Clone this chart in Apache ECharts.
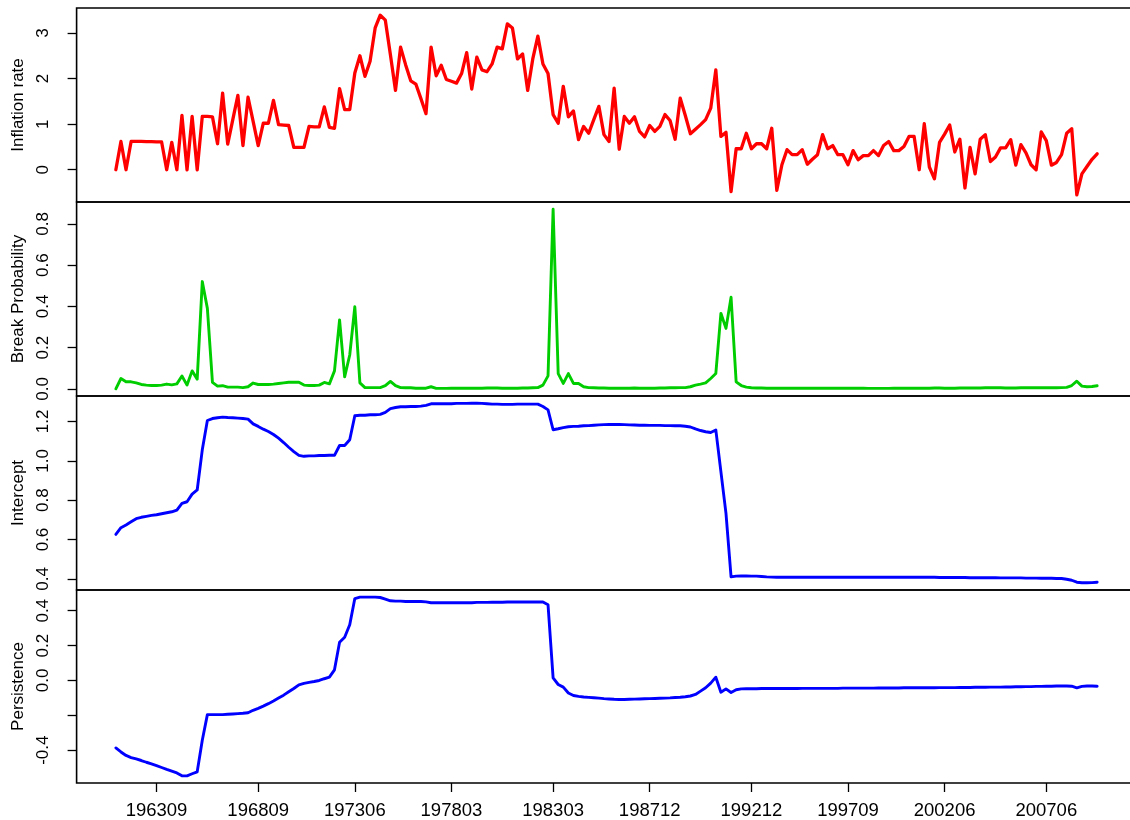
<!DOCTYPE html>
<html>
<head>
<meta charset="utf-8">
<script src="https://cdn.jsdelivr.net/npm/echarts@6/dist/echarts.min.js"></script>
<style>
  html, body { margin: 0; padding: 0; background: #ffffff; overflow: hidden; }
  /* the plot region runs a few pixels past the right edge of the window */
  #chart { width: 1142px; height: 820px; }
</style>
</head>
<body>
<div id="chart"></div>
<script>
// Quarterly observations, 1961Q3 - 2009Q4 (yyyymm of quarter end)
const quarters = [
  '196109','196112',
  '196203','196206','196209','196212', '196303','196306','196309','196312',
  '196403','196406','196409','196412', '196503','196506','196509','196512',
  '196603','196606','196609','196612', '196703','196706','196709','196712',
  '196803','196806','196809','196812', '196903','196906','196909','196912',
  '197003','197006','197009','197012', '197103','197106','197109','197112',
  '197203','197206','197209','197212', '197303','197306','197309','197312',
  '197403','197406','197409','197412', '197503','197506','197509','197512',
  '197603','197606','197609','197612', '197703','197706','197709','197712',
  '197803','197806','197809','197812', '197903','197906','197909','197912',
  '198003','198006','198009','198012', '198103','198106','198109','198112',
  '198203','198206','198209','198212', '198303','198306','198309','198312',
  '198403','198406','198409','198412', '198503','198506','198509','198512',
  '198603','198606','198609','198612', '198703','198706','198709','198712',
  '198803','198806','198809','198812', '198903','198906','198909','198912',
  '199003','199006','199009','199012', '199103','199106','199109','199112',
  '199203','199206','199209','199212', '199303','199306','199309','199312',
  '199403','199406','199409','199412', '199503','199506','199509','199512',
  '199603','199606','199609','199612', '199703','199706','199709','199712',
  '199803','199806','199809','199812', '199903','199906','199909','199912',
  '200003','200006','200009','200012', '200103','200106','200109','200112',
  '200203','200206','200209','200212', '200303','200306','200309','200312',
  '200403','200406','200409','200412', '200503','200506','200509','200512',
  '200603','200606','200609','200612', '200703','200706','200709','200712',
  '200803','200806','200809','200812', '200903','200906','200909','200912'
];

// Dates shown on the time axis
const tickDates = ['196309','196809','197306','197803','198303','198712','199212','199709','200206','200706'];

// Quarterly inflation rate (%)
const inflation = [
  0.00, 0.62, 0.00, 0.62, 0.62, 0.62, 0.615, 0.615, 0.61, 0.61,
  0.00, 0.60, 0.00, 1.19, 0.00, 1.17, 0.00, 1.17, 1.17, 1.16,
  0.57, 1.68, 0.56, 1.10, 1.63, 0.53, 1.59, 1.06, 0.53, 1.02,
  1.02, 1.52, 0.99, 0.98, 0.97, 0.49, 0.49, 0.49, 0.95, 0.94,
  0.94, 1.38, 0.93, 0.91, 1.78, 1.32, 1.32, 2.12, 2.50, 2.05,
  2.38, 3.11, 3.39, 3.28, 2.52, 1.74, 2.69, 2.30, 1.95, 1.88,
  1.56, 1.23, 2.69, 2.06, 2.29, 1.98, 1.94, 1.90, 2.11, 2.57,
  1.77, 2.47, 2.19, 2.15, 2.32, 2.69, 2.65, 3.20, 3.11, 2.43,
  2.54, 1.74, 2.43, 2.93, 2.32, 2.11, 1.21, 1.02, 1.83, 1.16,
  1.29, 0.66, 0.95, 0.80, 1.10, 1.39, 0.77, 0.62, 1.79, 0.45,
  1.17, 1.02, 1.16, 0.84, 0.72, 0.97, 0.84, 0.95, 1.21, 1.08,
  0.67, 1.57, 1.19, 0.79, 0.89, 0.99, 1.10, 1.35, 2.19, 0.73,
  0.82, -0.48, 0.46, 0.46, 0.80, 0.46, 0.57, 0.57, 0.46, 0.91,
  -0.45, 0.11, 0.44, 0.33, 0.33, 0.44, 0.12, 0.23, 0.33, 0.77,
  0.46, 0.53, 0.33, 0.33, 0.11, 0.42, 0.22, 0.31, 0.31, 0.42,
  0.31, 0.53, 0.62, 0.42, 0.42, 0.51, 0.73, 0.73, 0.00, 1.01,
  0.06, -0.20, 0.60, 0.78, 0.98, 0.39, 0.67, -0.40, 0.49, -0.09,
  0.67, 0.77, 0.18, 0.28, 0.48, 0.48, 0.66, 0.10, 0.55, 0.37,
  0.11, 0.00, 0.83, 0.64, 0.10, 0.16, 0.33, 0.80, 0.90, -0.55,
  -0.09, 0.07, 0.23, 0.35
];

// Posterior probability of a structural break
const breakProb = [
  0.000, 0.050, 0.034, 0.034, 0.029, 0.021, 0.018, 0.016, 0.016, 0.018,
  0.023, 0.019, 0.024, 0.062, 0.018, 0.087, 0.047, 0.520, 0.390, 0.031,
  0.013, 0.015, 0.008, 0.008, 0.008, 0.006, 0.010, 0.028, 0.021, 0.021,
  0.021, 0.023, 0.026, 0.029, 0.032, 0.032, 0.032, 0.018, 0.016, 0.016,
  0.018, 0.031, 0.024, 0.087, 0.334, 0.058, 0.164, 0.398, 0.029, 0.006,
  0.006, 0.006, 0.006, 0.015, 0.036, 0.015, 0.006, 0.005, 0.005, 0.003,
  0.003, 0.003, 0.010, 0.002, 0.002, 0.002, 0.003, 0.003, 0.003, 0.003,
  0.003, 0.003, 0.003, 0.004, 0.004, 0.004, 0.003, 0.003, 0.003, 0.003,
  0.004, 0.004, 0.005, 0.006, 0.018, 0.063, 0.871, 0.074, 0.026, 0.074,
  0.026, 0.026, 0.010, 0.006, 0.005, 0.004, 0.004, 0.003, 0.003, 0.003,
  0.003, 0.003, 0.004, 0.003, 0.003, 0.003, 0.003, 0.004, 0.004, 0.005,
  0.005, 0.006, 0.006, 0.010, 0.018, 0.023, 0.029, 0.050, 0.074, 0.366,
  0.293, 0.444, 0.034, 0.016, 0.008, 0.005, 0.004, 0.004, 0.003, 0.003,
  0.003, 0.003, 0.003, 0.003, 0.003, 0.003, 0.003, 0.003, 0.003, 0.003,
  0.003, 0.003, 0.003, 0.003, 0.003, 0.003, 0.003, 0.003, 0.002, 0.002,
  0.002, 0.002, 0.002, 0.003, 0.003, 0.003, 0.003, 0.003, 0.003, 0.003,
  0.003, 0.004, 0.004, 0.003, 0.003, 0.003, 0.004, 0.004, 0.004, 0.004,
  0.004, 0.005, 0.005, 0.005, 0.005, 0.004, 0.004, 0.004, 0.005, 0.005,
  0.005, 0.005, 0.005, 0.005, 0.005, 0.005, 0.006, 0.007, 0.016, 0.037,
  0.013, 0.010, 0.011, 0.015
];

// Regime intercept
const intercept = [
  0.626, 0.660, 0.674, 0.690, 0.706, 0.713, 0.718, 0.723, 0.726, 0.731,
  0.736, 0.741, 0.750, 0.784, 0.792, 0.831, 0.852, 1.056, 1.205, 1.215,
  1.219, 1.222, 1.220, 1.219, 1.217, 1.215, 1.212, 1.188, 1.175, 1.161,
  1.149, 1.134, 1.115, 1.093, 1.069, 1.047, 1.028, 1.023, 1.025, 1.025,
  1.027, 1.027, 1.028, 1.028, 1.078, 1.078, 1.107, 1.229, 1.232, 1.232,
  1.234, 1.234, 1.236, 1.246, 1.265, 1.271, 1.275, 1.275, 1.276, 1.276,
  1.278, 1.282, 1.290, 1.290, 1.290, 1.290, 1.290, 1.292, 1.292, 1.292,
  1.293, 1.293, 1.292, 1.290, 1.288, 1.288, 1.287, 1.287, 1.287, 1.288,
  1.288, 1.288, 1.288, 1.288, 1.276, 1.259, 1.158, 1.163, 1.169, 1.173,
  1.175, 1.176, 1.178, 1.179, 1.181, 1.183, 1.184, 1.185, 1.185, 1.185,
  1.184, 1.183, 1.182, 1.181, 1.181, 1.180, 1.180, 1.180, 1.179, 1.179,
  1.178, 1.178, 1.176, 1.172, 1.162, 1.154, 1.148, 1.144, 1.157, 0.945,
  0.733, 0.410, 0.414, 0.415, 0.415, 0.414, 0.414, 0.412, 0.410, 0.409,
  0.408, 0.408, 0.408, 0.408, 0.408, 0.408, 0.408, 0.408, 0.408, 0.408,
  0.408, 0.408, 0.408, 0.408, 0.408, 0.408, 0.408, 0.408, 0.408, 0.408,
  0.408, 0.408, 0.408, 0.408, 0.408, 0.408, 0.408, 0.408, 0.408, 0.408,
  0.408, 0.408, 0.407, 0.407, 0.407, 0.407, 0.407, 0.407, 0.406, 0.406,
  0.406, 0.406, 0.406, 0.406, 0.405, 0.405, 0.405, 0.405, 0.405, 0.404,
  0.404, 0.404, 0.403, 0.403, 0.403, 0.402, 0.402, 0.398, 0.393, 0.383,
  0.380, 0.380, 0.381, 0.383
];

// Regime persistence
const persistence = [
  -0.387, -0.410, -0.430, -0.442, -0.450, -0.459, -0.469, -0.478, -0.488, -0.499,
  -0.510, -0.520, -0.530, -0.547, -0.547, -0.535, -0.524, -0.343, -0.196, -0.196,
  -0.196, -0.196, -0.194, -0.192, -0.190, -0.188, -0.185, -0.171, -0.160, -0.147,
  -0.133, -0.118, -0.101, -0.084, -0.065, -0.046, -0.025, -0.017, -0.011, -0.006,
  0.000, 0.010, 0.019, 0.061, 0.219, 0.248, 0.320, 0.470, 0.478, 0.478,
  0.478, 0.478, 0.476, 0.467, 0.457, 0.455, 0.455, 0.453, 0.453, 0.453,
  0.453, 0.451, 0.446, 0.446, 0.446, 0.446, 0.446, 0.446, 0.446, 0.446,
  0.446, 0.448, 0.448, 0.448, 0.449, 0.449, 0.449, 0.450, 0.450, 0.450,
  0.450, 0.450, 0.450, 0.450, 0.450, 0.434, 0.015, -0.023, -0.038, -0.072,
  -0.086, -0.091, -0.095, -0.097, -0.099, -0.101, -0.104, -0.106, -0.108, -0.109,
  -0.109, -0.108, -0.107, -0.106, -0.105, -0.104, -0.103, -0.102, -0.101, -0.100,
  -0.098, -0.096, -0.093, -0.089, -0.080, -0.061, -0.042, -0.015, 0.019, -0.067,
  -0.048, -0.069, -0.053, -0.048, -0.047, -0.047, -0.047, -0.046, -0.046, -0.046,
  -0.046, -0.046, -0.046, -0.046, -0.046, -0.045, -0.045, -0.045, -0.045, -0.045,
  -0.045, -0.045, -0.045, -0.044, -0.044, -0.044, -0.044, -0.044, -0.044, -0.044,
  -0.043, -0.043, -0.043, -0.043, -0.043, -0.042, -0.042, -0.042, -0.042, -0.042,
  -0.042, -0.042, -0.041, -0.041, -0.041, -0.041, -0.040, -0.040, -0.040, -0.039,
  -0.039, -0.039, -0.038, -0.038, -0.038, -0.037, -0.037, -0.036, -0.036, -0.035,
  -0.035, -0.034, -0.034, -0.033, -0.033, -0.032, -0.032, -0.032, -0.033, -0.042,
  -0.034, -0.032, -0.032, -0.033
];

// Y-axis tick positions and the subset that carries a label
const inflationTicks = [0, 1, 2, 3];
const breakTicks = [0, 0.2, 0.4, 0.6, 0.8];
const interceptTicks = [0.4, 0.6, 0.8, 1.0, 1.2];
const persistenceTicks = [-0.4, -0.2, 0, 0.2, 0.4];
const persistenceLabels = [-0.4, 0, 0.2, 0.4];

const FONT = 'Liberation Sans';
const panels = [
  { title: 'Inflation rate',    values: inflation,   color: '#ff0000', width: 3.3, ticks: inflationTicks,   labels: inflationTicks,    digits: 0 },
  { title: 'Break Probability', values: breakProb,   color: '#00cd00', width: 2.9, ticks: breakTicks,       labels: breakTicks,        digits: 1 },
  { title: 'Intercept',         values: intercept,   color: '#0000ff', width: 2.9, ticks: interceptTicks,   labels: interceptTicks,    digits: 1 },
  { title: 'Persistence',       values: persistence, color: '#0000ff', width: 2.9, ticks: persistenceTicks, labels: persistenceLabels, digits: 1 }
];

// Axis limits padded by 4% of the data range on each side
function padded(arr) {
  const lo = Math.min.apply(null, arr), hi = Math.max.apply(null, arr);
  const p = (hi - lo) * 0.04;
  return [lo - p, hi + p];
}
const n = quarters.length;
const xLim = padded([0, n - 1]);
const tickIdx = tickDates.map(d => quarters.indexOf(d));

const LEFT = 76.6, WIDTH = 1059.8, TOP = 8, H = 194;

const grids = [], xAxes = [], yAxes = [], series = [];
panels.forEach((p, i) => {
  const isLast = i === panels.length - 1;
  const yLim = padded(p.values);
  grids.push({
    left: LEFT, width: WIDTH, top: TOP + i * H, height: H,
    show: true, borderColor: '#000', borderWidth: 1.6, backgroundColor: 'transparent'
  });
  xAxes.push({
    type: 'value', gridIndex: i, min: xLim[0], max: xLim[1],
    show: isLast, position: 'bottom',
    axisLine: { show: false, onZero: false },
    splitLine: { show: false },
    axisTick: { show: isLast, customValues: tickIdx, length: 9, lineStyle: { color: '#000', width: 1.3 } },
    axisLabel: {
      show: isLast, customValues: tickIdx, margin: 18,
      fontFamily: FONT, fontSize: 18.5, color: '#000',
      formatter: v => quarters[Math.round(v)]
    }
  });
  yAxes.push({
    type: 'value', gridIndex: i, min: yLim[0], max: yLim[1], position: 'left',
    name: p.title, nameLocation: 'middle', nameRotate: 90, nameGap: 50,
    nameTextStyle: { fontFamily: FONT, fontSize: 17, color: '#000' },
    axisLine: { show: false, onZero: false },
    splitLine: { show: false },
    axisTick: { show: true, customValues: p.ticks, length: 9, lineStyle: { color: '#000', width: 1.3 } },
    axisLabel: {
      customValues: p.labels, rotate: 90, margin: 25,
      fontFamily: FONT, fontSize: 17, color: '#000',
      formatter: v => v.toFixed(p.digits)
    }
  });
  series.push({
    type: 'line', xAxisIndex: i, yAxisIndex: i,
    data: p.values.map((v, k) => [k, v]),
    showSymbol: false, silent: true,
    lineStyle: { color: p.color, width: p.width, join: 'round', cap: 'round' }
  });
});

const chart = echarts.init(document.getElementById('chart'), null, { renderer: 'canvas' });
chart.setOption({
  animation: false,
  backgroundColor: '#ffffff',
  grid: grids, xAxis: xAxes, yAxis: yAxes, series: series
});
</script>
</body>
</html>
